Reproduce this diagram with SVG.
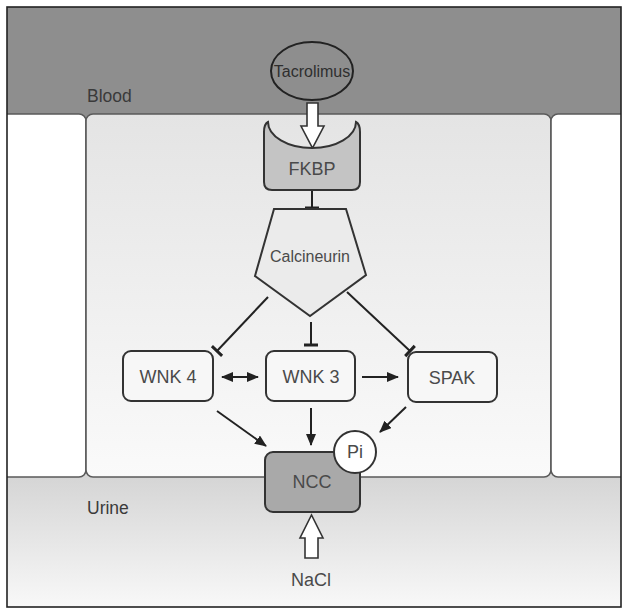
<svg xmlns="http://www.w3.org/2000/svg" width="629" height="614" viewBox="0 0 629 614">
<style>
.lbl{font-family:"Liberation Sans",Arial,sans-serif;font-size:18px;fill:#4a4a4a;text-anchor:middle}
.reg{font-family:"Liberation Sans",Arial,sans-serif;font-size:17.5px;fill:#3a3a3a}
.cell{stroke:#5a5a5a;stroke-width:1.6}
.box{fill:#f7f7f7;stroke:#333;stroke-width:2}
.con{stroke:#222;stroke-width:2;fill:none}
.hollow{fill:#fff;stroke:#333;stroke-width:1.6;stroke-linejoin:miter}
</style>
<defs>
<linearGradient id="gCell" x1="0" y1="0" x2="0" y2="1">
<stop offset="0" stop-color="#e4e4e4"/><stop offset="1" stop-color="#fafafa"/>
</linearGradient>
<linearGradient id="gUrine" x1="0" y1="0" x2="0" y2="1">
<stop offset="0" stop-color="#d2d2d2"/><stop offset="1" stop-color="#f8f8f8"/>
</linearGradient>
<clipPath id="frame"><rect x="7" y="7" width="614" height="600"/></clipPath>
<marker id="arr" markerUnits="userSpaceOnUse" markerWidth="12" markerHeight="10" refX="11" refY="5" orient="auto-start-reverse" viewBox="0 0 12 10">
<path d="M0,0 L12,5 L0,10 z" fill="#222"/>
</marker>
<marker id="tee" markerUnits="userSpaceOnUse" markerWidth="4" markerHeight="16" refX="2" refY="8" orient="auto" viewBox="0 0 4 16">
<rect x="0.5" y="1" width="3" height="14" fill="#222"/>
</marker>
</defs>
<rect width="629" height="614" fill="#fff"/>
<g id="background" clip-path="url(#frame)">
<rect x="7" y="7" width="614" height="120" fill="#8e8e8e"/>
<rect x="7" y="465" width="614" height="142" fill="url(#gUrine)"/>
<rect class="cell" x="-30" y="114" width="116" height="363" rx="7" fill="#ffffff"/>
<rect class="cell" x="86" y="114" width="465" height="363" rx="7" fill="url(#gCell)"/>
<rect class="cell" x="551" y="114" width="110" height="363" rx="7" fill="#ffffff"/>
<text class="reg" x="87" y="102">Blood</text>
<text class="reg" x="87" y="514">Urine</text>
</g>
<rect x="7" y="7" width="614" height="600" fill="none" stroke="#222" stroke-width="1.6"/>
<g id="connectors">
<polygon class="hollow" points="307,103 318,103 318,126 324,126 312.5,148 301,126 307,126"/>
<polygon class="hollow" points="305,558 318,558 318,538 323,538 311.5,515 300,538 305,538"/>
<line class="con" x1="312" y1="190" x2="312" y2="208" marker-end="url(#tee)"/>
<line class="con" x1="268" y1="297" x2="217" y2="351" marker-end="url(#tee)"/>
<line class="con" x1="311" y1="322" x2="311" y2="345" marker-end="url(#tee)"/>
<line class="con" x1="347" y1="292" x2="410" y2="351" marker-end="url(#tee)"/>
<line class="con" x1="222" y1="377" x2="258" y2="377" marker-start="url(#arr)" marker-end="url(#arr)"/>
<line class="con" x1="362" y1="377" x2="398" y2="377" marker-end="url(#arr)"/>
<line class="con" x1="217" y1="411" x2="266" y2="446" marker-end="url(#arr)"/>
<line class="con" x1="311" y1="408" x2="311" y2="445" marker-end="url(#arr)"/>
<line class="con" x1="406" y1="407" x2="380" y2="432" marker-end="url(#arr)"/>
</g>
<g id="tacrolimus">
<ellipse cx="312" cy="71" rx="41" ry="29" fill="#8e8e8e" stroke="#222" stroke-width="2"/>
<text class="lbl" x="312" y="77" style="font-size:16px;fill:#2e2e2e">Tacrolimus</text>
</g>
<g id="fkbp">
<path d="M268,122 Q264,124 264,132 L264,182 Q264,190 272,190 L352,190 Q360,190 360,182 L360,132 Q360,124 356,122 A44 26 0 0 1 268,122 Z" fill="#c4c4c4" stroke="#333" stroke-width="2"/>
<text class="lbl" x="312" y="175">FKBP</text>
</g>
<g id="calcineurin">
<polygon points="274,209 346,209 366,275 310,316 255,276" fill="#ebebeb" stroke="#333" stroke-width="2" stroke-linejoin="miter"/>
<text class="lbl" x="310" y="262" style="font-size:16px">Calcineurin</text>
</g>
<g id="wnk4">
<rect class="box" x="123" y="351" width="90" height="50" rx="8"/>
<text class="lbl" x="168" y="383">WNK 4</text>
</g>
<g id="wnk3">
<rect class="box" x="266" y="351" width="89" height="50" rx="8"/>
<text class="lbl" x="311" y="383">WNK 3</text>
</g>
<g id="spak">
<rect class="box" x="408" y="352" width="89" height="50" rx="8"/>
<text class="lbl" x="452" y="384">SPAK</text>
</g>
<g id="ncc">
<rect x="265" y="452" width="95" height="60" rx="8" fill="#a9a9a9" stroke="#333" stroke-width="2"/>
<text class="lbl" x="312" y="488">NCC</text>
</g>
<g id="pi">
<circle cx="355" cy="452" r="21" fill="#fff" stroke="#333" stroke-width="2"/>
<text class="lbl" x="355" y="458">Pi</text>
</g>
<g id="nacl">
<text class="lbl" x="311" y="586">NaCl</text>
</g>
</svg>
